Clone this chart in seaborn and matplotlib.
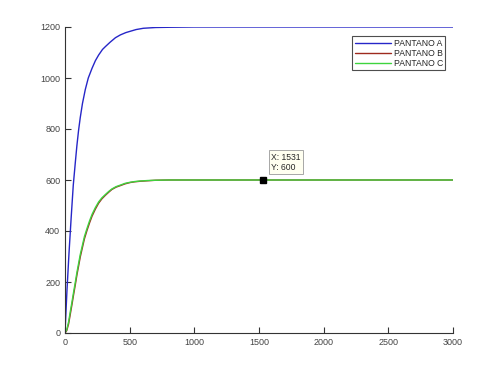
import matplotlib
matplotlib.use("Agg")
import matplotlib.pyplot as plt
import seaborn as sns
import pandas as pd

# Data
t_a = [0, 15, 31, 48, 64, 80, 92, 105, 118, 135, 157, 180, 209, 235, 260, 290, 312, 348,
       390, 428, 470, 503, 550, 606, 700, 812, 1000, 1500, 2000, 2500, 3000]
v_a = [0, 165, 314, 455, 580, 670, 735, 795, 845, 900, 955, 1000, 1038, 1068, 1090, 1112, 1123, 1140,
       1158, 1169, 1178, 1183, 1190, 1195, 1198, 1199, 1200, 1200, 1200, 1200, 1200]

t_b = [0, 14, 28, 41, 54, 67, 80, 93, 106, 118, 131, 150, 170, 190, 209, 235, 260, 285, 312, 340,
       363, 395, 428, 465, 503, 540, 580, 640, 700, 800, 1000, 1500, 2000, 2500, 3000]
v_b = [0, 10, 36, 74, 112, 152, 190, 230, 265, 298, 327, 369, 402, 432, 458, 486, 509, 526, 540, 553,
       563, 572, 578, 585, 590, 593, 595, 597, 599, 600, 600, 600, 600, 600, 600]

t_c = [0, 14, 28, 41, 54, 67, 80, 93, 106, 118, 131, 150, 170, 190, 209, 235, 260, 285, 312, 340,
       363, 395, 428, 465, 503, 540, 580, 640, 700, 800, 1000, 1500, 2000, 2500, 3000]
v_c = [0, 14, 44, 84, 122, 162, 200, 240, 275, 308, 336, 378, 410, 440, 465, 492, 514, 530, 543, 556,
       565, 574, 580, 587, 591, 594, 596, 598, 599, 600, 600, 600, 600, 600, 600]

series_names = ["PANTANO A", "PANTANO B", "PANTANO C"]
tip_x, tip_y = 1531, 600

df = pd.concat([
    pd.DataFrame({"t": t_a, "v": v_a, "s": series_names[0]}),
    pd.DataFrame({"t": t_b, "v": v_b, "s": series_names[1]}),
    pd.DataFrame({"t": t_c, "v": v_c, "s": series_names[2]}),
])

sns.set_style("white")
plt.rcParams["font.family"] = ["Liberation Sans", "DejaVu Sans"]

fig = plt.figure(figsize=(5, 3.75), dpi=100)
ax = fig.add_axes([0.13, 0.112, 0.776, 0.816])

palette = {"PANTANO A": "#2626c8", "PANTANO B": "#9e2a1e", "PANTANO C": "#3ed43e"}
sns.lineplot(data=df, x="t", y="v", hue="s", palette=palette, ax=ax,
             linewidth=1.0, sort=False, estimator=None)

ax.set_xlim(0, 3000)
ax.set_ylim(0, 1200)
ax.set_xticks(range(0, 3001, 500))
ax.set_yticks(range(0, 1201, 200))
ax.set_xlabel("")
ax.set_ylabel("")
for side in ["top", "right"]:
    ax.spines[side].set_visible(False)
for side in ["left", "bottom"]:
    ax.spines[side].set_color("#333333")
    ax.spines[side].set_linewidth(0.8)
ax.tick_params(direction="in", length=4, width=0.8, labelsize=6.5,
               colors="#333333", left=True, bottom=True)
for lbl in ax.get_xticklabels() + ax.get_yticklabels():
    lbl.set_color("#444444")

leg = ax.legend(loc="upper right", bbox_to_anchor=(0.985, 0.975), fontsize=6.2,
                frameon=True, fancybox=False, borderpad=0.3, labelspacing=0.1,
                handlelength=4.2, handletextpad=0.3, borderaxespad=0.2)
leg.get_frame().set_edgecolor("#222222")
leg.get_frame().set_linewidth(0.8)

# Data tip
ax.plot([tip_x], [tip_y], marker="s", color="black", markersize=4.5, zorder=5)
ax.annotate(f"X: {tip_x}\nY: {tip_y}", xy=(tip_x, tip_y), xytext=(6, 6),
            textcoords="offset points", fontsize=6.2, va="bottom", ha="left",
            linespacing=1.1,
            bbox=dict(boxstyle="square,pad=0.3", fc="#fffff0", ec="#999999", lw=0.6))

fig.savefig("out.png", dpi=100)
